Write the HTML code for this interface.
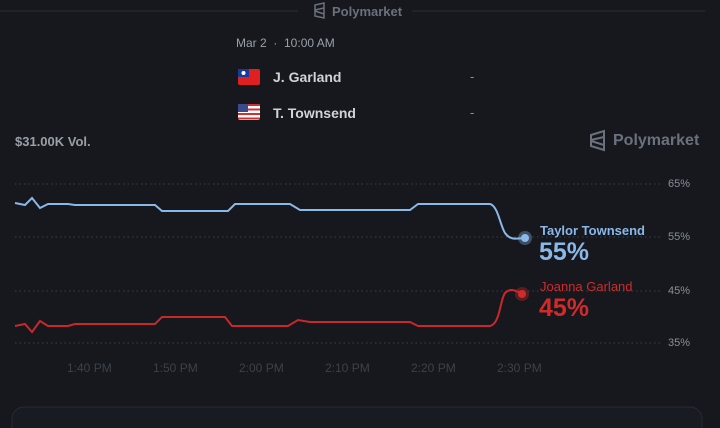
<!DOCTYPE html><html><head><style>
body{margin:0;width:720px;height:428px;background:#16181d;overflow:hidden;font-family:"Liberation Sans",sans-serif;position:relative}
.t{position:absolute;white-space:nowrap}
</style></head><body>
<svg width="720" height="428" style="position:absolute;left:0;top:0">
<line x1="0" y1="11" x2="298" y2="11" stroke="#2a2e36"/>
<line x1="412" y1="11" x2="705" y2="11" stroke="#2a2e36"/>
<g stroke="#6a717c" fill="none" stroke-width="1.5"><path d="M315 5 L324 3 L324 18 L315 16 Z M315 10 L324 8 M315 11 L324 14"/></g>
<g stroke="#6a717c" fill="none" stroke-width="2"><path d="M591 135 L604 131 L604 150 L591 146 Z M591 140 L604 137 M591 141 L604 145"/></g>
<g stroke="#3a3f48" stroke-dasharray="1.5 3"><line x1="15" y1="184" x2="660" y2="184"/><line x1="15" y1="237" x2="660" y2="237"/><line x1="15" y1="291" x2="660" y2="291"/><line x1="15" y1="343" x2="660" y2="343"/></g>
<path d="M15 203 L25 205 L32 198 L40 208 L48 204 L68 204 L75 205 L155 205 L162 211 L228 211 L235 204 L290 204 L300 210 L410 210 L418 204 L490 204 C498 206 500 225 505 233 C510 240 515 239 525 238" fill="none" stroke="#8ab8e8" stroke-width="2"/>
<path d="M15 326 L25 324 L32 332 L40 321 L48 326 L68 326 L75 324 L155 324 L162 317 L225 317 L232 326 L288 326 L298 320 L310 322 L410 322 L418 326 L490 326 C500 324 500 300 505 293 C510 288 515 290 522 294" fill="none" stroke="#c8282a" stroke-width="2"/>
<circle cx="525" cy="238" r="7" fill="#8ab8e8" opacity="0.35"/><circle cx="525" cy="238" r="4" fill="#8ab8e8"/>
<circle cx="522" cy="294" r="7" fill="#d02a2a" opacity="0.35"/><circle cx="522" cy="294" r="4" fill="#d02a2a"/>
<rect x="12" y="407" width="690" height="40" rx="12" fill="#181b21" stroke="#272b33"/>
<rect x="238" y="69" width="22" height="16" rx="2" fill="#e02020"/><rect x="238" y="69" width="11" height="8" fill="#1a3a9a"/><circle cx="243.5" cy="73" r="2" fill="#fff"/>
<g><rect x="238" y="104" width="22" height="16" rx="2" fill="#fff"/><rect x="238" y="104" width="22" height="2" fill="#d03030"/><rect x="238" y="108.5" width="22" height="2" fill="#d03030"/><rect x="238" y="113" width="22" height="2" fill="#d03030"/><rect x="238" y="117.5" width="22" height="2" fill="#d03030"/><rect x="238" y="104" width="10" height="8" fill="#3a4a8a"/></g>
</svg>
<div class="t" style="left:332px;top:4px;font-size:13px;color:#6a717c;font-weight:bold">Polymarket</div>
<div class="t" style="left:236px;top:36px;font-size:12px;color:#9aa0a8">Mar 2 &nbsp;·&nbsp; 10:00 AM</div>
<div class="t" style="left:273px;top:69px;font-size:14px;color:#d0d3d8;font-weight:bold">J. Garland</div>
<div class="t" style="left:273px;top:105px;font-size:14px;color:#d0d3d8;font-weight:bold">T. Townsend</div>
<div class="t" style="left:470px;top:69px;font-size:13px;color:#8a9098">-</div>
<div class="t" style="left:470px;top:105px;font-size:13px;color:#8a9098">-</div>
<div class="t" style="left:15px;top:134px;font-size:13px;color:#9aa0a8;font-weight:bold">$31.00K Vol.</div>
<div class="t" style="left:613px;top:132px;font-size:16px;color:#6a717c;font-weight:bold">Polymarket</div>
<div class="t" style="left:668px;top:178px;font-size:11px;color:#8a9098">65%</div>
<div class="t" style="left:668px;top:231px;font-size:11px;color:#8a9098">55%</div>
<div class="t" style="left:668px;top:285px;font-size:11px;color:#8a9098">45%</div>
<div class="t" style="left:668px;top:337px;font-size:11px;color:#8a9098">35%</div>
<div class="t" style="left:540px;top:223px;font-size:13px;color:#8ab8e8;font-weight:bold">Taylor Townsend</div>
<div class="t" style="left:539px;top:238px;font-size:25px;color:#8ab8e8;font-weight:bold">55%</div>
<div class="t" style="left:540px;top:279px;font-size:13px;color:#d02a2a">Joanna Garland</div>
<div class="t" style="left:539px;top:294px;font-size:25px;color:#d02a2a;font-weight:bold">45%</div>
<div class="t" style="left:67px;top:361px;font-size:12px;color:#3c414a">1:40 PM</div>
<div class="t" style="left:153px;top:361px;font-size:12px;color:#3c414a">1:50 PM</div>
<div class="t" style="left:239px;top:361px;font-size:12px;color:#3c414a">2:00 PM</div>
<div class="t" style="left:325px;top:361px;font-size:12px;color:#3c414a">2:10 PM</div>
<div class="t" style="left:411px;top:361px;font-size:12px;color:#3c414a">2:20 PM</div>
<div class="t" style="left:497px;top:361px;font-size:12px;color:#3c414a">2:30 PM</div>
</body></html>
